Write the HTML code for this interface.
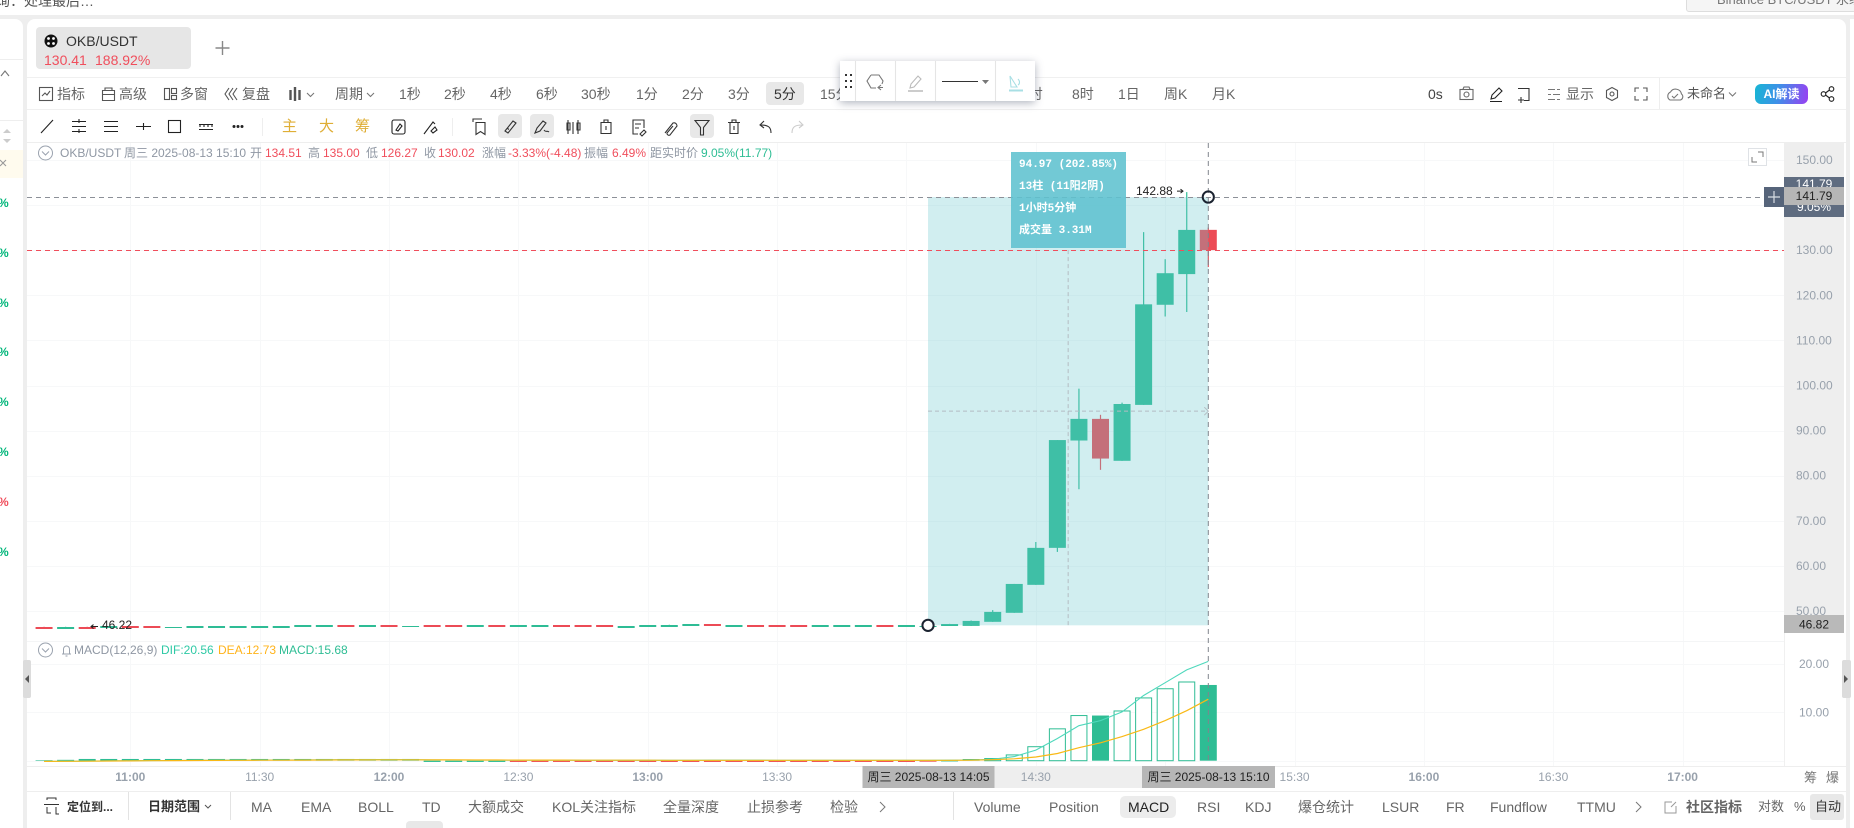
<!DOCTYPE html>
<html lang="zh">
<head>
<meta charset="utf-8">
<title>OKB/USDT</title>
<style>
html,body{margin:0;padding:0;width:1854px;height:828px;overflow:hidden;background:#eeeeee;}
body{font-family:"Liberation Sans","Noto Sans CJK SC",sans-serif;position:relative;}
.p{position:absolute;}
.t{position:absolute;white-space:nowrap;line-height:16px;height:16px;font-size:14px;color:#666;}
.s{font-size:12px;color:#8f97a3;}
.r{color:#f04e5c;}
.g{color:#2ebd94;}
.b{font-weight:bold;color:#333;}
svg{position:absolute;left:0;top:0;}
#icons *{vector-effect:none;}
</style>
</head>
<body>

<div class="p" style="left:0;top:0;width:1854px;height:15px;background:#fff;overflow:hidden;">
  <div class="t" style="left:-4px;top:-7px;font-size:14px;color:#555;">询：处理最后…</div>
  <div class="p" style="left:1686px;top:-12px;width:168px;height:22px;background:#f5f5f5;border:1px solid #ddd;border-radius:3px;">
    <div class="t" style="left:30px;top:3px;font-size:13px;color:#777;">Binance BTC/USDT 永续</div>
  </div>
</div>

<div class="p" style="left:0;top:19px;width:23px;height:809px;background:#fff;border-top-right-radius:8px;overflow:hidden;">
  <div class="p" style="left:0;top:40px;width:23px;height:1px;background:#eee;"></div>
  <div class="p" style="left:0;top:101px;width:23px;height:1px;background:#eee;"></div>
  <div class="p" style="left:0;top:131px;width:23px;height:28px;background:#fffbee;"></div>
  <div class="t" style="left:-2px;top:176px;font-size:12px;font-weight:bold;color:#00b67a;">%</div>
  <div class="t" style="left:-2px;top:226px;font-size:12px;font-weight:bold;color:#00b67a;">%</div>
  <div class="t" style="left:-2px;top:276px;font-size:12px;font-weight:bold;color:#00b67a;">%</div>
  <div class="t" style="left:-2px;top:325px;font-size:12px;font-weight:bold;color:#00b67a;">%</div>
  <div class="t" style="left:-2px;top:375px;font-size:12px;font-weight:bold;color:#00b67a;">%</div>
  <div class="t" style="left:-2px;top:425px;font-size:12px;font-weight:bold;color:#00b67a;">%</div>
  <div class="t" style="left:-2px;top:475px;font-size:12px;font-weight:bold;color:#f04e5c;">%</div>
  <div class="t" style="left:-2px;top:525px;font-size:12px;font-weight:bold;color:#00b67a;">%</div>
</div>

<div class="p" style="left:27px;top:19px;width:1819px;height:809px;background:#fff;border-radius:8px 8px 0 0;"></div>
<div class="p" style="left:1850px;top:19px;width:4px;height:809px;background:#fff;"></div>

<div class="p" style="left:36px;top:27px;width:155px;height:42px;background:#e6e6e6;border-radius:4px;"></div>
<div class="t" style="left:66px;top:33px;color:#333;">OKB/USDT</div>
<div class="t r" style="left:44px;top:52px;">130.41</div>
<div class="t r" style="left:95px;top:52px;">188.92%</div>

<div class="p" style="left:27px;top:77px;width:1819px;height:1px;background:#f0f0f0;"></div>
<div class="p" style="left:27px;top:109px;width:1819px;height:1px;background:#f0f0f0;"></div>
<div class="p" style="left:27px;top:142px;width:1819px;height:1px;background:#eeeeee;"></div>
<div class="p" style="left:766px;top:82px;width:38px;height:23px;background:#e8e8e8;border-radius:4px;"></div>

<div class="t" style="left:57px;top:86px;">指标</div>
<div class="t" style="left:119px;top:86px;">高级</div>
<div class="t" style="left:180px;top:86px;">多窗</div>
<div class="t" style="left:242px;top:86px;">复盘</div>
<div class="t" style="left:335px;top:86px;">周期</div>
<div class="t" style="left:399px;top:86px;">1秒</div>
<div class="t" style="left:444px;top:86px;">2秒</div>
<div class="t" style="left:490px;top:86px;">4秒</div>
<div class="t" style="left:536px;top:86px;">6秒</div>
<div class="t" style="left:581px;top:86px;">30秒</div>
<div class="t" style="left:636px;top:86px;">1分</div>
<div class="t" style="left:682px;top:86px;">2分</div>
<div class="t" style="left:728px;top:86px;">3分</div>
<div class="t" style="left:774px;top:86px;color:#333;">5分</div>
<div class="t" style="left:820px;top:86px;">15分</div>
<div class="t" style="left:1021px;top:86px;">4时</div>
<div class="t" style="left:1072px;top:86px;">8时</div>
<div class="t" style="left:1118px;top:86px;">1日</div>
<div class="t" style="left:1164px;top:86px;">周K</div>
<div class="t" style="left:1212px;top:86px;">月K</div>
<div class="t" style="left:1428px;top:86px;color:#444;">0s</div>
<div class="t" style="left:1566px;top:86px;">显示</div>
<div class="t" style="left:1687px;top:86px;font-size:13px;color:#555;">未命名</div>
<div class="p" style="left:1659px;top:78px;width:1px;height:31px;background:#eee;"></div>
<div class="p" style="left:1755px;top:84px;width:53px;height:20px;border-radius:6px;background:linear-gradient(100deg,#17b6d4 0%,#3f8fe8 45%,#9a3ff2 100%);color:#fff;font-size:12px;font-weight:bold;line-height:20px;text-align:center;">AI解读</div>

<div class="p" style="left:498px;top:114px;width:24px;height:24px;background:#e8e8e8;border-radius:4px;"></div>
<div class="p" style="left:530px;top:114px;width:24px;height:24px;background:#e8e8e8;border-radius:4px;"></div>
<div class="p" style="left:690px;top:114px;width:24px;height:24px;background:#e8e8e8;border-radius:4px;"></div>
<div class="t" style="left:282px;top:119px;font-size:15px;color:#dfae36;">主</div>
<div class="t" style="left:319px;top:119px;font-size:15px;color:#dfae36;">大</div>
<div class="t" style="left:355px;top:119px;font-size:15px;color:#dfae36;">筹</div>
<div class="p" style="left:262px;top:118px;width:1px;height:18px;background:#eee;"></div>
<div class="p" style="left:452px;top:118px;width:1px;height:18px;background:#eee;"></div>

<svg id="chart" width="1854" height="828" viewBox="0 0 1854 828"></svg>

<svg id="icons" width="1854" height="828" viewBox="0 0 1854 828" fill="none" stroke="#444" stroke-width="1.1">
  <g><circle cx="51" cy="41" r="6.5" fill="#111" stroke="none"/><circle cx="48.5" cy="38.5" r="1.4" fill="#fff" stroke="none"/><circle cx="53.5" cy="38.5" r="1.4" fill="#fff" stroke="none"/><circle cx="48.5" cy="43.5" r="1.4" fill="#fff" stroke="none"/><circle cx="53.5" cy="43.5" r="1.4" fill="#fff" stroke="none"/></g>
  <path d="M222.5 41v14M215.5 48h14" stroke="#888" stroke-width="1.4"/>
  <g stroke="#777"><path d="M1 76l4-5 4 5"/></g>
  <g fill="#ccc" stroke="none"><path d="M7 129l-4 4h8zM7 143l-4-4h8z"/></g>
  <path d="M0 160l6 6M6 160l-6 6M0 166" stroke="#999"/>
  <g stroke="#555"><rect x="39.500" y="87.500" width="13" height="13"/><path d="M42 96l3-3 2 2 3-4"/></g>
  <g stroke="#555"><path d="M102.500 90.500h12v10h-12zM102.500 94.500h12M105 90v-2h7v2"/></g>
  <g stroke="#555"><rect x="164.500" y="88.500" width="5" height="11"/><rect x="171.500" y="88.500" width="5" height="5"/><rect x="171.500" y="95.500" width="5" height="4"/></g>
  <g stroke="#555"><path d="M229 88l-4 6 4 6M233 88l-4 6 4 6M237 88l-4 6 4 6"/></g>
  <g stroke="#555"><path d="M290.500 90v10M295 87v14M299.500 90v10" stroke-width="2.400"/></g>
  <path d="M307 93l3.500 3.500 3.500-3.500" stroke="#777"/>
  <path d="M367 93l3.500 3.500 3.500-3.500" stroke="#777"/>
  <g stroke="#666"><rect x="1460" y="89.500" width="13" height="10"/><circle cx="1466.500" cy="94.500" r="2.500"/><path d="M1463 89l1-2h5l1 2"/></g>
  <path d="M1491 99l1-4 7-7 3 3-7 7zM1490 101.500h12" stroke="#222"/>
  <path d="M1518 88.500h11v12h-5M1521 97v6M1518 100h6" stroke="#333"/>
  <path d="M1548 89.500h7M1557 89.500h3M1548 94.500h3M1553 94.500h7M1548 99.500h7M1557 99.500h3" stroke="#777"/>
  <g stroke="#555"><path d="M1612 87.500l5.500 3v7l-5.500 3-5.500-3v-7z"/><circle cx="1612" cy="94" r="2"/></g>
  <path d="M1635 92v-4h4M1643 88h4v4M1647 96v4h-4M1639 100h-4v-4" stroke="#555"/>
  <g stroke="#777"><path d="M1670 100a4.500 4.500 0 0 1 .5-8 6 6 0 0 1 11 2 3.500 3.500 0 0 1-1 6z"/><path d="M1672 96l2 2 4-4"/></g>
  <path d="M1729 92.500l3.500 3.500 3.500-3.500" stroke="#777"/>
  <g stroke="#222"><circle cx="1823.500" cy="94" r="2.300"/><circle cx="1831.500" cy="89" r="2.300"/><circle cx="1831.500" cy="99" r="2.300"/><path d="M1825.500 93l4-3M1825.500 95l4 3"/></g>

  <path d="M41 133l12-13" stroke="#222"/>
  <path d="M72 121.500h14M72 126.500h14M72 131.500h14M79 119v4M79 129v4" stroke="#222"/>
  <path d="M104 121.500h14M104 126.500h14M104 131.500h14" stroke="#222"/>
  <path d="M136 126.500h15M143.500 123v7" stroke="#222"/>
  <rect x="168.500" y="120.500" width="12" height="12" stroke="#222"/>
  <path d="M199 124.500h14M199 129.500h14M200 127v-3M204 127v-3M208 127v-3M212 127v-3" stroke="#222"/>
  <g fill="#222" stroke="none"><circle cx="234" cy="126.500" r="1.500"/><circle cx="238" cy="126.500" r="1.500"/><circle cx="242" cy="126.500" r="1.500"/></g>
  <g stroke="#222"><rect x="392" y="120" width="13" height="14" rx="2"/><path d="M396 130l4-6 2 2-4 5z"/></g>
  <path d="M424 134l9-12 2 2M431 131l4-4 2 3-4 3z" stroke="#222"/>
  <path d="M473 122v-3h9M476 122.500h9v12l-4.500-3-4.500 3z" stroke="#333"/>
  <path d="M505 131l8-10 3 2-8 10zM507 128l2 1.500" stroke="#333"/>
  <path d="M535 133l2-5 6-7 3 2-6 8zM544 130c2 3 3 0 5 2" stroke="#333"/>
  <path d="M568 120v14M573 122v12M578 120v14M567 123h3v7h-3zM577 123h3v7h-3z" stroke="#333"/>
  <path d="M601 122.500h10v11h-10zM604 122v-2h4v2M606 126v4" stroke="#333"/>
  <path d="M638 134h-5v-14h11v8M635 124h6M635 128h4M640 134l4-4 2 2-4 4z" stroke="#333"/>
  <path d="M665 133l8-10a3 3 0 0 1 4 3l-7 9a2 2 0 0 1-3-2l6-7" stroke="#333"/>
  <path d="M695 120.500h14l-5.500 7v7.500h-3v-7.500z" stroke="#333"/>
  <path d="M728 122.500h12M730 122.500v11h8v-11M732 122v-2h4v2M734 126v4" stroke="#333"/>
  <path d="M771 133c0-6-3-8-10-8M764 121l-4 4 4 3" stroke="#333"/>
  <path d="M792 133c0-6 3-8 10-8M799 121l4 4-4 3" stroke="#ccc"/>
</svg>

<div class="t s" style="left:60px;top:145px;">OKB/USDT</div>
<div class="t s" style="left:124px;top:145px;">周三 2025-08-13 15:10</div>
<div class="t s" style="left:250px;top:145px;">开</div>
<div class="t s r" style="left:265px;top:145px;color:#f04e5c;">134.51</div>
<div class="t s" style="left:308px;top:145px;">高</div>
<div class="t s" style="left:323px;top:145px;color:#f04e5c;">135.00</div>
<div class="t s" style="left:366px;top:145px;">低</div>
<div class="t s" style="left:381px;top:145px;color:#f04e5c;">126.27</div>
<div class="t s" style="left:424px;top:145px;">收</div>
<div class="t s" style="left:438px;top:145px;color:#f04e5c;">130.02</div>
<div class="t s" style="left:482px;top:145px;">涨幅</div>
<div class="t s" style="left:508px;top:145px;color:#f04e5c;">-3.33%(-4.48)</div>
<div class="t s" style="left:584px;top:145px;">振幅</div>
<div class="t s" style="left:612px;top:145px;color:#f04e5c;">6.49%</div>
<div class="t s" style="left:650px;top:145px;">距实时价</div>
<div class="t s" style="left:701px;top:145px;color:#2ebd94;">9.05%(11.77)</div>

<div class="t s" style="left:74px;top:642px;">MACD(12,26,9)</div>
<div class="t s" style="left:161px;top:642px;color:#2ec9a5;">DIF:20.56</div>
<div class="t s" style="left:218px;top:642px;color:#ffb31a;">DEA:12.73</div>
<div class="t s" style="left:279px;top:642px;color:#2ebd94;">MACD:15.68</div>

<div class="p" style="left:1011px;top:152px;width:115px;height:96px;background:rgba(95,193,207,.88);"></div>
<div class="t" style="left:1019px;top:157px;font:bold 11px/16px 'Liberation Mono','Noto Sans CJK SC',monospace;color:#fff;">94.97 (202.85%)</div>
<div class="t" style="left:1019px;top:179px;font:bold 11px/16px 'Liberation Mono','Noto Sans CJK SC',monospace;color:#fff;">13柱 (11阳2阴)</div>
<div class="t" style="left:1019px;top:201px;font:bold 11px/16px 'Liberation Mono','Noto Sans CJK SC',monospace;color:#fff;">1小时5分钟</div>
<div class="t" style="left:1019px;top:223px;font:bold 11px/16px 'Liberation Mono','Noto Sans CJK SC',monospace;color:#fff;">成交量 3.31M</div>

<div class="p" style="left:840px;top:61px;width:195px;height:40px;background:#fff;box-shadow:0 2px 8px rgba(60,70,95,.4);">
  <svg width="195" height="40" viewBox="0 0 195 40" fill="none" stroke="#777" stroke-width="1.1" style="left:0;top:0;">
    <g fill="#333" stroke="none"><rect x="5" y="13" width="2" height="2"/><rect x="10" y="13" width="2" height="2"/><rect x="5" y="19" width="2" height="2"/><rect x="10" y="19" width="2" height="2"/><rect x="5" y="25" width="2" height="2"/><rect x="10" y="25" width="2" height="2"/></g>
    <path d="M15.500 0v40M55.500 0v40M95.500 0v40M155.500 0v40" stroke="#e5e5e5"/>
    <path d="M31 14h8l4 6-1 3M31 14l-4 6 4 7h5M41 29l-3-2.500 3-2.500M38 26.500h5"/>
    <g><path d="M70 27l1-4 7-8 3 3-7 8z" stroke="#bbb"/><path d="M68 30h15" stroke="#ccc" stroke-width="2"/></g>
    <path d="M102 20.500h36" stroke="#333"/>
    <path d="M142 19h7l-3.500 4z" fill="#777" stroke="none"/>
    <g stroke="#a8dfe4"><path d="M170 15l7 11h-6zM178 18c2 2 2 5 0 6"/><path d="M169 29.500h14" stroke-width="2"/></g>
  </svg>
</div>

<div class="p" style="left:23px;top:660px;width:8px;height:38px;background:#dcdcdc;border-radius:2px;"></div>
<div class="p" style="left:1842px;top:660px;width:9px;height:38px;background:#dcdcdc;border-radius:2px;"></div>
<svg width="1854" height="828" viewBox="0 0 1854 828">
  <path d="M29 675v8l-4-4z" fill="#555"/>
  <path d="M1844 675v8l4-4z" fill="#555"/>
</svg>

<div class="p" style="left:27px;top:791px;width:1819px;height:1px;background:#eeeeee;"></div>
<div class="p" style="left:128px;top:792px;width:1px;height:28px;background:#e3e3e3;"></div>
<div class="p" style="left:230px;top:792px;width:1px;height:28px;background:#e3e3e3;"></div>
<div class="p" style="left:953px;top:792px;width:1px;height:28px;background:#e3e3e3;"></div>
<div class="p" style="left:1120px;top:796px;width:56px;height:22px;background:#ececec;border-radius:5px;"></div>
<div class="p" style="left:1810px;top:794px;width:34px;height:26px;background:#e8e8e8;border-radius:3px;"></div>
<div class="p" style="left:406px;top:821px;width:37px;height:7px;background:#e8e8e8;border-radius:4px 4px 0 0;"></div>

<svg width="1854" height="828" viewBox="0 0 1854 828" fill="none" stroke="#333">
  <path d="M47 800v-2h9v2M44 804.500h15M47 807v6h4M56 807v7h3"/>
  <path d="M205 805l3 3 3-3" stroke="#555"/>
  <path d="M880 802l5 5-5 5" stroke="#777"/>
  <path d="M1636 802l5 5-5 5" stroke="#777"/>
  <path d="M1672 802h-7v11h11v-7M1671 807l5-5" stroke="#999"/>
</svg>

<div class="t b" style="left:67px;top:799px;font-size:12px;">定位到...</div>
<div class="t b" style="left:148px;top:799px;font-size:13px;">日期范围</div>
<div class="t" style="left:251px;top:799px;">MA</div>
<div class="t" style="left:301px;top:799px;">EMA</div>
<div class="t" style="left:358px;top:799px;">BOLL</div>
<div class="t" style="left:422px;top:799px;">TD</div>
<div class="t" style="left:468px;top:799px;">大额成交</div>
<div class="t" style="left:552px;top:799px;">KOL关注指标</div>
<div class="t" style="left:663px;top:799px;">全量深度</div>
<div class="t" style="left:747px;top:799px;">止损参考</div>
<div class="t" style="left:830px;top:799px;">检验</div>
<div class="t" style="left:974px;top:799px;">Volume</div>
<div class="t" style="left:1049px;top:799px;">Position</div>
<div class="t" style="left:1128px;top:799px;color:#222;">MACD</div>
<div class="t" style="left:1197px;top:799px;">RSI</div>
<div class="t" style="left:1245px;top:799px;">KDJ</div>
<div class="t" style="left:1298px;top:799px;">爆仓统计</div>
<div class="t" style="left:1382px;top:799px;">LSUR</div>
<div class="t" style="left:1446px;top:799px;">FR</div>
<div class="t" style="left:1490px;top:799px;">Fundflow</div>
<div class="t" style="left:1577px;top:799px;">TTMU</div>
<div class="t" style="left:1686px;top:799px;font-weight:bold;color:#666;">社区指标</div>
<div class="t" style="left:1758px;top:799px;font-size:13px;">对数</div>
<div class="t" style="left:1794px;top:799px;font-size:13px;">%</div>
<div class="t" style="left:1815px;top:799px;font-size:13px;color:#333;">自动</div>
<div class="t" style="left:1804px;top:770px;font-size:13px;color:#777;">筹</div>
<div class="t" style="left:1826px;top:770px;font-size:13px;color:#777;">爆</div>

<script>
var times = ['10:40','10:45','10:50','10:55','11:00','11:05','11:10','11:15','11:20','11:25','11:30','11:35','11:40','11:45','11:50','11:55','12:00','12:05','12:10','12:15','12:20','12:25','12:30','12:35','12:40','12:45','12:50','12:55','13:00','13:05','13:10','13:15','13:20','13:25','13:30','13:35','13:40','13:45','13:50','13:55','14:00','14:05','14:10','14:15','14:20','14:25','14:30','14:35','14:40','14:45','14:50','14:55','15:00','15:05','15:10'];
var opens = [46.5,46.3,46.5,46.4,46.6,46.6,46.38,46.42,46.42,46.42,46.42,46.42,46.64,46.64,46.84,46.64,46.84,46.58,46.84,46.84,46.64,46.84,46.64,46.64,46.84,46.84,46.84,46.42,46.64,46.64,46.86,47.06,46.64,46.84,46.84,46.84,46.64,46.64,46.64,46.84,46.64,46.72,46.82,46.7,47.6,49.6,55.8,64,87.8,92.6,83.3,95.7,117.9,124.7,134.51];
var closes = [46.3,46.5,46.3,46.6,46.4,46.4,46.42,46.62,46.62,46.62,46.62,46.62,46.84,46.84,46.64,46.84,46.64,46.62,46.64,46.64,46.84,46.64,46.84,46.84,46.64,46.64,46.64,46.62,46.84,46.84,47.06,46.86,46.84,46.64,46.64,46.64,46.84,46.84,46.84,46.64,46.84,46.76,47.1,47.8,49.8,56,64,87.9,92.6,83.8,95.9,118,124.9,134.5,130.02];
var highs = [46.5,46.5,46.5,46.6,46.6,46.6,46.45,46.62,46.62,46.62,46.62,46.62,46.84,46.84,46.84,46.84,46.84,46.64,46.84,46.84,46.84,46.84,46.84,46.84,46.84,46.84,46.84,46.68,46.84,46.95,47.06,47.06,46.84,46.84,46.84,46.84,46.84,46.84,46.84,46.84,46.84,46.82,47.15,47.9,50.2,56,65.3,87.9,99.3,93.5,96.2,134,128,142.88,135];
var lows = [46.3,46.3,46.22,46.4,46.4,46.4,46.36,46.42,46.42,46.42,46.42,46.42,46.64,46.64,46.64,46.64,46.64,46.56,46.64,46.64,46.64,46.64,46.64,46.64,46.64,46.64,46.64,46.3,46.64,46.64,46.76,46.86,46.64,46.64,46.64,46.64,46.64,46.64,46.64,46.64,46.64,46.7,46.8,46.7,47.6,49.6,55.8,63.1,77,81.3,83.3,95.7,115.3,116.3,126.27];
var macdHist = [0.12,0.18,0.36,0.36,0.36,0.36,0.36,0.36,0.36,0.36,0.36,0.36,0.36,0.36,0.36,0.36,0.36,0.36,-0.26,-0.26,-0.26,-0.26,-0.26,-0.26,-0.26,-0.26,-0.26,-0.26,-0.26,-0.26,-0.26,-0.26,-0.26,-0.26,-0.26,-0.26,-0.26,-0.26,-0.26,-0.26,-0.26,-0.2,-0.15,0.35,0.55,1.3,3,6.7,9.45,9.35,10.4,13.1,15,16.4,15.68];
var macdKinds = ['solid','solid','solid','solid','solid','solid','solid','solid','solid','solid','solid','solid','solid','solid','solid','solid','solid','solid','solid','solid','solid','solid','down','down','down','down','down','down','down','down','down','down','down','down','down','down','down','down','down','down','down','down','solid','solid','hollow','hollow','hollow','hollow','hollow','solid','hollow','hollow','hollow','hollow','solid'];
var difLine = [-0.15,-0.12,-0.08,-0.04,0,0.03,0.05,0.08,0.1,0.12,0.14,0.15,0.16,0.18,0.2,0.22,0.22,0.2,0.16,0.14,0.12,0.12,0.1,0.1,0.1,0.08,0.08,0.08,0.08,0.08,0.08,0.1,0.1,0.1,0.08,0.08,0.08,0.08,0.08,0.08,0.08,0.08,0.1,0.15,0.3,0.85,2.2,4.6,7.25,8.3,10.1,13.5,16.15,18.8,20.56];
var deaLine = [-0.15,-0.13,-0.1,-0.07,-0.04,-0.01,0.02,0.04,0.06,0.08,0.1,0.11,0.13,0.14,0.16,0.17,0.18,0.18,0.17,0.16,0.15,0.14,0.13,0.12,0.12,0.11,0.1,0.1,0.1,0.09,0.09,0.09,0.09,0.09,0.09,0.09,0.09,0.09,0.08,0.08,0.08,0.08,0.09,0.1,0.2,0.4,0.76,1.5,2.7,3.7,5,6.5,8.3,10.35,12.73];
var priceTicks = [150,140,130,120,110,100,90,80,70,60,50];
var macdTicks = [20,10];
var timeTicks = ['11:00','11:30','12:00','12:30','13:00','13:30','14:00','14:30','15:00','15:30','16:00','16:30','17:00'];
var measureStart = {time:'14:05', price:46.82};
var measureEnd = {time:'15:10', price:141.79};
var lastClose = 130.02;
var highLabel = 142.88;
var lowLabel = 46.22;
var pctLabel = '9.05%';

var NS = 'http://www.w3.org/2000/svg';
var svg = document.getElementById('chart');
var minutesOf = function (s) { var a = s.split(':'); return (+a[0]) * 60 + (+a[1]); };
var lastMin = minutesOf(times[times.length - 1]);
var timeX = function (s) { return 1208.3 + (minutesOf(s) - lastMin) / 5 * 21.56; };
var priceY = function (v) { return 611 - (v - 50) * 4.51; };
var macdY = function (v) { return 760.7 - v * 4.83; };
var GREEN = '#2ebc95', RED = '#ec4b56';

function add(tag, attrs, text) {
  var el = document.createElementNS(NS, tag);
  for (var k in attrs) el.setAttribute(k, attrs[k]);
  if (text !== undefined) el.textContent = text;
  svg.appendChild(el);
  return el;
}
function snap(v) { return Math.round(v) + 0.5; }
var el, i;

/* grid */
priceTicks.forEach(function (v) {
  var g = add('line', {x1:27, x2:1784, y1:snap(priceY(v)), y2:snap(priceY(v)), stroke:'#f7f8f9'});
  
  
});
macdTicks.concat([0]).forEach(function (v) {
  var g = add('line', {x1:27, x2:1784, y1:snap(macdY(v)), y2:snap(macdY(v)), stroke:'#f7f8f9'});
  
  
});
timeTicks.forEach(function (t) {
  var g = add('line', {x1:snap(timeX(t)), x2:snap(timeX(t)), y1:143, y2:766, stroke:'#f7f8f9'});
  
  
});
el = add('line', {x1:27, x2:1784, y1:641.5, y2:641.5, stroke:'#f4f5f6'});


el = add('line', {x1:27, x2:1846, y1:766.5, y2:766.5, stroke:'#eeeeee'});



/* price axis */
el = add('rect', {x:1784, y:143, width:60, height:490, fill:'#eeeeee'});


el = add('line', {x1:1784.5, x2:1784.5, y1:633, y2:766, stroke:'#f0f0f0'});


priceTicks.forEach(function (v) {
  var l = add('text', {x:1796, y:priceY(v) + 4, 'font-size':12, fill:'#98a1ac'}, v.toFixed(2));
  
  
});
macdTicks.forEach(function (v) {
  var l = add('text', {x:1799, y:macdY(v) + 4, 'font-size':12, fill:'#98a1ac'}, v.toFixed(2));
  
  
});

/* time axis labels */
timeTicks.forEach(function (t) {
  var isHour = t.slice(-2) === '00';
  var l = add('text', {x:timeX(t), y:781, 'font-size':12, 'text-anchor':'middle', fill:'#98a1ac', 'font-weight':isHour ? 'bold' : 'normal'}, t);
  
  
});

/* candles */
times.forEach(function (t, idx) {
  var o = opens[idx], c = closes[idx], h = highs[idx], lo = lows[idx];
  var col = c >= o ? GREEN : RED;
  var x = timeX(t);
  var top = priceY(Math.max(o, c)), bot = priceY(Math.min(o, c));
  var hgt = bot - top;
  if (hgt < 3) {
    top = Math.round(top);
    hgt = hgt < 0.6 ? 1 : 2;
  }
  var wick = add('line', {x1:x, x2:x, y1:priceY(h), y2:priceY(lo), stroke:col, 'stroke-width':1.2});
  
  
  var body = add('rect', {x:x - 8.5, y:top, width:17, height:hgt, fill:col});
  
  
});

/* MACD histogram */
times.forEach(function (t, idx) {
  var v = macdHist[idx], kind = macdKinds[idx], x = timeX(t);
  var y0 = macdY(0), y1 = macdY(v);
  var top = Math.min(y0, y1), hgt = Math.abs(y1 - y0);
  var bar;
  if (kind === 'hollow') {
    bar = add('rect', {x:x - 8, y:top + 0.5, width:16, height:hgt - 0.5, fill:'#fff', stroke:'#2ebd94', 'stroke-width':1});
  } else {
    bar = add('rect', {x:x - 8.5, y:top, width:17, height:hgt, fill:kind === 'down' ? '#ef4f4f' : '#2ebd94'});
  }
  
  
});
function polyPoints(values) {
  return times.map(function (t, idx) { return timeX(t).toFixed(1) + ',' + macdY(values[idx]).toFixed(1); }).join(' ');
}
el = add('polyline', {points:polyPoints(difLine), fill:'none', stroke:'#4fd8bc', 'stroke-width':1.1});


el = add('polyline', {points:polyPoints(deaLine), fill:'none', stroke:'#f9b916', 'stroke-width':1.2});



/* measurement overlay */
var mx0 = timeX(measureStart.time), mx1 = timeX(measureEnd.time);
var my0 = priceY(measureStart.price), my1 = priceY(measureEnd.price);
el = add('rect', {x:mx0, y:my1, width:mx1 - mx0, height:my0 - my1, fill:'rgb(102,198,205)', 'fill-opacity':0.3});


el = add('line', {x1:(mx0 + mx1) / 2, x2:(mx0 + mx1) / 2, y1:priceY(lastClose), y2:my0, stroke:'#b4bcc2', 'stroke-dasharray':'4 3'});


el = add('line', {x1:mx0, x2:mx1, y1:(my0 + my1) / 2, y2:(my0 + my1) / 2, stroke:'#b4bcc2', 'stroke-dasharray':'4 3'});


el = add('path', {d:'M' + (mx1 - 4) + ' ' + ((my0 + my1) / 2 - 4) + 'l4 4l-4 4', fill:'none', stroke:'#b4bcc2'});



el = add('line', {x1:27, x2:1764, y1:snap(my1), y2:snap(my1), stroke:'#8c9098', 'stroke-dasharray':'5 4'});


el = add('line', {x1:mx1, x2:mx1, y1:143, y2:763, stroke:'#80858e', 'stroke-dasharray':'5 4'});


el = add('line', {x1:27, x2:1784, y1:snap(priceY(lastClose)), y2:snap(priceY(lastClose)), stroke:'#f04e5c', 'stroke-dasharray':'5 4'});



el = add('circle', {cx:mx1, cy:my1, r:5.6, fill:'none', stroke:'#1b2330', 'stroke-width':2});


el = add('circle', {cx:mx0, cy:my0, r:5.6, fill:'#fff', stroke:'#1b2330', 'stroke-width':2});



/* high / low annotations */
el = add('text', {x:1136, y:priceY(highLabel) + 3, 'font-size':12, fill:'#222'}, highLabel.toFixed(2));


el = add('path', {d:'M1177 ' + (priceY(highLabel) - 1) + 'h6m-2.500-2l2.500 2l-2.500 2', fill:'none', stroke:'#222'});


el = add('text', {x:102, y:priceY(lowLabel) + 1, 'font-size':12, fill:'#222'}, lowLabel.toFixed(2));


el = add('path', {d:'M98 ' + (priceY(lowLabel) - 1.500) + 'h-7m2.500-2l-2.500 2l2.500 2', fill:'none', stroke:'#222'});



/* axis badges */
el = add('rect', {x:1784, y:177, width:60, height:40, fill:'#5f6c80'});


el = add('text', {x:1814, y:188, 'font-size':12, fill:'#fff', 'text-anchor':'middle'}, measureEnd.price.toFixed(2));


el = add('text', {x:1814, y:211, 'font-size':12, fill:'#fff', 'text-anchor':'middle'}, pctLabel);


el = add('rect', {x:1784, y:187, width:60, height:18, fill:'#b6b6b6'});


el = add('text', {x:1814, y:200, 'font-size':12, fill:'#222', 'text-anchor':'middle'}, measureEnd.price.toFixed(2));


el = add('rect', {x:1784, y:615, width:60, height:18, fill:'#b9b9b9'});


el = add('text', {x:1814, y:628.500, 'font-size':12, fill:'#222', 'text-anchor':'middle'}, measureStart.price.toFixed(2));



el = add('rect', {x:1764, y:187, width:20, height:20, fill:'#56647a'});


el = add('path', {d:'M1768 197h12M1774 191v12', stroke:'#d8dde3', 'stroke-width':1.2, fill:'none'});



/* time axis badges */
el = add('rect', {x:994, y:766, width:148, height:22, fill:'#eeeeee'});


el = add('text', {x:timeX('14:30'), y:781, 'font-size':12, fill:'#98a1ac', 'text-anchor':'middle'}, '14:30');


el = add('rect', {x:862.500, y:766, width:132, height:22, fill:'#b6b6b6'});


el = add('text', {x:928.500, y:781, 'font-size':12, fill:'#222', 'text-anchor':'middle'}, '周三 2025-08-13 ' + measureStart.time);


el = add('rect', {x:1142, y:766, width:133, height:22, fill:'#b6b6b6'});


el = add('text', {x:1208.500, y:781, 'font-size':12, fill:'#222', 'text-anchor':'middle'}, '周三 2025-08-13 ' + measureEnd.time);



/* small chart controls */
el = add('circle', {cx:45.500, cy:153, r:7, fill:'#fff', stroke:'#9aa2ae'});


el = add('path', {d:'M42 151.500l3.500 3.500 3.500-3.500', fill:'none', stroke:'#9aa2ae'});


el = add('circle', {cx:45.500, cy:650, r:7, fill:'#fff', stroke:'#9aa2ae'});


el = add('path', {d:'M42 648.500l3.500 3.500 3.500-3.500', fill:'none', stroke:'#9aa2ae'});


el = add('path', {d:'M62 654h9M63.500 654v-5a3 3 0 0 1 6 0v5M65.500 656h2', fill:'none', stroke:'#9aa2ae'});


el = add('path', {d:'M1748.500 148.500h18v17h-18z', fill:'#fff', stroke:'#dfe2e6'});


el = add('path', {d:'M1758 152h5v5M1757 162h-5v-5', fill:'none', stroke:'#777'});


</script>
</body>
</html>
